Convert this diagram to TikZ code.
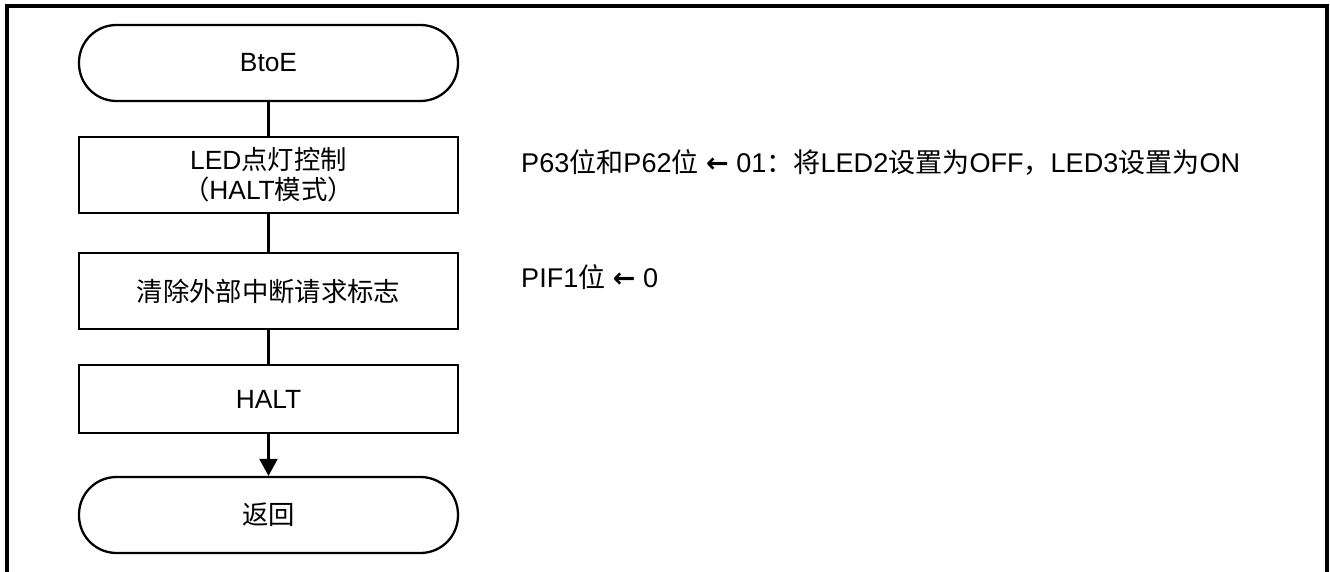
\documentclass[tikz,border=0pt]{standalone}
\usepackage{fontspec}
\setmainfont{Liberation Sans}
\newfontfamily\cjk{Noto Sans CJK SC}
\newfontfamily\arrfont{DejaVu Sans}
\newcommand{\zh}[1]{{\cjk #1}}
\newcommand{\larr}{{\arrfont\bfseries ←}}
\usetikzlibrary{arrows.meta}

\begin{document}
\begin{tikzpicture}[
	terminal/.style={draw, line width=1.3pt, rounded corners=0.75cm, minimum width=7.58cm, minimum height=1.52cm, font=\fontsize{15pt}{17pt}\selectfont},
	process/.style={draw, line width=1.3pt, minimum width=7.58cm, minimum height=1.52cm, align=center, font=\fontsize{15pt}{17pt}\selectfont},
	note/.style={anchor=west, font=\fontsize{15.4pt}{17pt}\selectfont},
	flow/.style={line width=1.3pt}]
	\useasboundingbox (0,0) rectangle (26.6,-11.44);
	\draw[line width=2pt] (0.14,-11.44) -- (0.14,-0.12) -- (26.54,-0.12) -- (26.54,-11.44);
	\node[terminal] (start) at (5.37,-1.26) {BtoE};
	\node[process] (led) at (5.37,-3.5) {LED\zh{点灯控制}\\\zh{（}HALT\zh{模式）}};
	\node[process] (clr) at (5.37,-5.82) {\zh{清除外部中断请求标志}};
	\node[process, minimum height=1.36cm] (halt) at (5.37,-7.98) {HALT};
	\node[terminal] (ret) at (5.37,-10.3) {\zh{返回}};
	\draw[flow] (start) -- (led);
	\draw[flow] (led) -- (clr);
	\draw[flow] (clr) -- (halt);
	\draw[flow, -{Triangle[length=0.34cm, width=0.36cm]}] (halt) -- (ret);
	\node[note] (ledNote) at (10.3,-3.24) {P63\zh{位和}P62\zh{位} \larr{} 01\zh{：将}LED2\zh{设置为}OFF\zh{，}LED3\zh{设置为}ON};
	\node[note] (clrNote) at (10.3,-5.54) {PIF1\zh{位} \larr{} 0};
\end{tikzpicture}
\end{document}
